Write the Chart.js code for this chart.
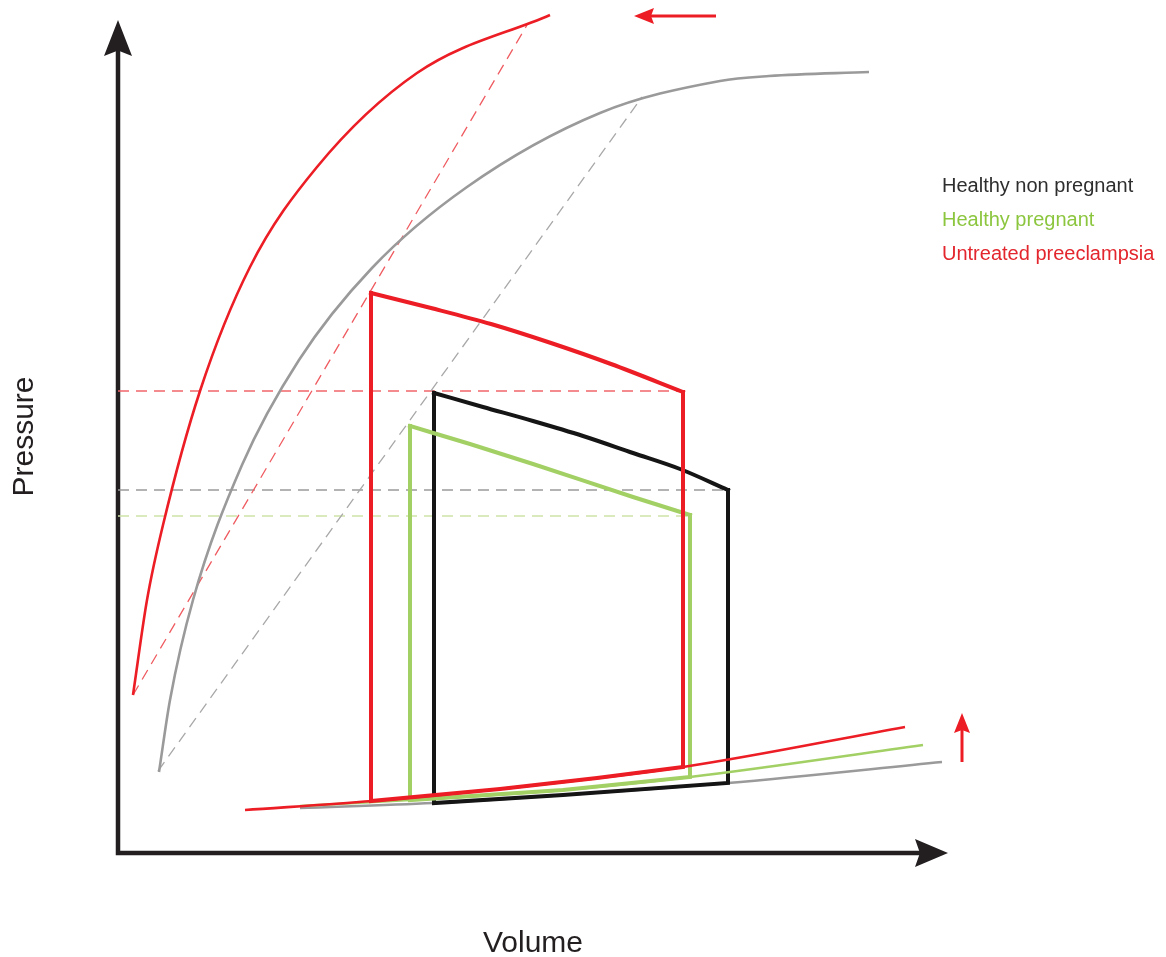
<!DOCTYPE html>
<html>
<head>
<meta charset="utf-8">
<title>Pressure-volume loops</title>
<script src="https://cdn.jsdelivr.net/npm/chart.js@4.4.1/dist/chart.umd.min.js"></script>
<style>
    html, body { margin: 0; padding: 0; background: #fff; }
    #wrap { width: 1166px; height: 957px; }
    canvas { display: block; }
</style>
</head>
<body>
<div id="wrap"><canvas id="pvChart" width="1166" height="957"></canvas></div>
<script>
document.addEventListener('DOMContentLoaded', function() {

    const RED = '#ec1d25';
    const GREEN = '#a3d065';
    const BLACK = '#151515';
    const GREY = '#9a9a9a';
    const AXIS = '#231f20';

    // volume / pressure in arbitrary units
    // end-systolic pressure-volume relations (curved)
    const espvrHealthy = [[41,81],[52,153],[75,253],[124,388],[181,493],[254,585],[349,666],[482,740],[602,772],[651,777],[751,781]];
    const espvrPreeclampsia = [[15,158],[29,253],[45,328],[82,462],[132,586],[199,686],[299,780],[432,838]];

    // straight elastance lines (dashed)
    const eesHealthy = [[40,82],[524,756]];
    const eesPreeclampsia = [[15,158],[409,828]];

    // end-diastolic pressure-volume relations
    const edpvrHealthy = [[182,45],[315,50],[445,58],[610,70],[824,91]];
    const edpvrPregnant = [[182,47],[292,53],[445,63],[572,76],[805,108]];
    const edpvrPreeclampsia = [[127,43],[254,52],[382,64],[565,86],[787,126]];

    // PV loops: walls + filling limb, and the ejection limb on top
    const loopNonPregnant = [[316,460],[316,50],[445,58],[610,70],[610,363]];
    const ejectNonPregnant = [[316,460],[365,446],[415,432],[465,417],[515,400],[562,384],[610,363]];
    const loopPregnant = [[292,427],[292,53],[445,63],[572,76],[572,338]];
    const ejectPregnant = [[292,427],[352,409],[415,389],[515,356],[572,338]];
    const loopPreeclampsia = [[253,560],[253,52],[382,64],[479,75],[565,86],[565,461]];
    const ejectPreeclampsia = [[253,560],[313,545],[373,529],[433,510],[493,489],[565,461]];

    // end-systolic pressure levels (dashed) and their volumes
    const espPressure = [363, 337, 462];   // non pregnant, pregnant, preeclampsia
    const espVolume = [610, 572, 565];

    // shift arrows
    const espvrShiftArrow = [[598,837],[516,837]];
    const edpvrShiftArrow = [[844,91],[844,140]];

    const axisTips = [830, 833];   // volume tip, pressure tip
    const groupLabels = ['Healthy non pregnant', 'Healthy pregnant', 'Untreated preeclampsia'];
    const groupColors = ['#2e2e2e', '#8cc63f', '#e3262d'];
    const lineColors = [GREY, '#cfe3a6', '#f0666b'];

    const pts = arr => arr.map(p => ({ x: p[0], y: p[1] }));

    function series(data, color, width, extra) {
        return Object.assign({
            data: pts(data),
            showLine: true,
            borderColor: color,
            backgroundColor: color,
            borderWidth: width,
            pointRadius: 0,
            pointHoverRadius: 0,
            fill: false,
            tension: 0,
            clip: false,
            borderJoinStyle: 'miter',
            borderCapStyle: 'butt'
        }, extra || {});
    }

    // curves are all increasing in volume, so monotone cubic keeps them smooth
    const smooth = { tension: 0.4, cubicInterpolationMode: 'monotone' };
    const dashed = { borderDash: [11, 7], order: 10 };

    const datasets = [
        series(espvrHealthy, GREY, 2.6, Object.assign({ order: 9 }, smooth)),
        series(espvrPreeclampsia, RED, 2.6, Object.assign({ order: 8 }, smooth)),
        series(eesHealthy, '#a8a8a8', 1.3, dashed),
        series(eesPreeclampsia, '#ef5b60', 1.3, dashed)
    ];
    espPressure.forEach((p, i) => {
        datasets.push(series([[0, p], [espVolume[i], p]], lineColors[i], 1.3, dashed));
    });
    datasets.push(
        series(edpvrHealthy, GREY, 2.6, Object.assign({ order: 7 }, smooth)),
        series(loopNonPregnant, BLACK, 4, { order: 6, borderCapStyle: 'square' }),
        series(ejectNonPregnant, BLACK, 4, Object.assign({ order: 6, borderCapStyle: 'square' }, smooth)),
        series(edpvrPregnant, GREEN, 2.6, Object.assign({ order: 5 }, smooth)),
        series(loopPregnant, GREEN, 4, { order: 4, borderCapStyle: 'square' }),
        series(ejectPregnant, GREEN, 4, Object.assign({ order: 4, borderCapStyle: 'square' }, smooth)),
        series(loopPreeclampsia, RED, 4, { order: 3, borderCapStyle: 'square' }),
        series(ejectPreeclampsia, RED, 4, Object.assign({ order: 3, borderCapStyle: 'square' }, smooth)),
        series(edpvrPreeclampsia, RED, 2.6, Object.assign({ order: 2 }, smooth))
    );

    function arrowHead(ctx, tx, ty, dx, dy, len, half) {
        const bx = tx - dx * len, by = ty - dy * len;
        const nx = -dy, ny = dx;
        const notch = len * 0.15;
        ctx.beginPath();
        ctx.moveTo(tx, ty);
        ctx.lineTo(bx + nx * half, by + ny * half);
        ctx.lineTo(bx + dx * notch, by + dy * notch);
        ctx.lineTo(bx - nx * half, by - ny * half);
        ctx.closePath();
        ctx.fill();
    }

    function drawArrow(chart, arrow, color, width, len, half) {
        const { ctx, scales: { x, y } } = chart;
        const x1 = x.getPixelForValue(arrow[0][0]), y1 = y.getPixelForValue(arrow[0][1]);
        const x2 = x.getPixelForValue(arrow[1][0]), y2 = y.getPixelForValue(arrow[1][1]);
        const d = Math.hypot(x2 - x1, y2 - y1);
        const dx = (x2 - x1) / d, dy = (y2 - y1) / d;
        ctx.save();
        ctx.strokeStyle = color;
        ctx.fillStyle = color;
        ctx.lineWidth = width;
        ctx.beginPath();
        ctx.moveTo(x1, y1);
        ctx.lineTo(x2 - dx * len * 0.8, y2 - dy * len * 0.8);
        ctx.stroke();
        arrowHead(ctx, x2, y2, dx, dy, len, half);
        ctx.restore();
    }

    const decorations = {
        id: 'decorations',
        beforeDatasetsDraw(chart) {
            const { ctx, scales: { x, y } } = chart;
            const x0 = x.getPixelForValue(0), y0 = y.getPixelForValue(0);
            const xt = x.getPixelForValue(axisTips[0]), yt = y.getPixelForValue(axisTips[1]);
            ctx.save();
            ctx.strokeStyle = AXIS;
            ctx.fillStyle = AXIS;
            ctx.lineWidth = 4.5;
            ctx.lineJoin = 'miter';
            ctx.beginPath();
            ctx.moveTo(x0, yt + 30);
            ctx.lineTo(x0, y0);
            ctx.lineTo(xt - 28, y0);
            ctx.stroke();
            arrowHead(ctx, x0, yt, 0, -1, 36, 14);
            arrowHead(ctx, xt, y0, 1, 0, 33, 14);

            // axis titles
            ctx.font = '30px "Liberation Sans", Arial, sans-serif';
            ctx.textAlign = 'center';
            ctx.textBaseline = 'alphabetic';
            ctx.fillText('Volume', (x0 + xt) / 2, 952);
            ctx.translate(33, (y0 + yt) / 2);
            ctx.rotate(-Math.PI / 2);
            ctx.fillText('Pressure', 0, 0);
            ctx.restore();
        },
        afterDatasetsDraw(chart) {
            const { ctx } = chart;
            drawArrow(chart, espvrShiftArrow, RED, 3, 20, 8);
            drawArrow(chart, edpvrShiftArrow, RED, 3, 20, 8);

            ctx.save();
            ctx.font = '20px "Liberation Sans", Arial, sans-serif';
            ctx.textAlign = 'left';
            ctx.textBaseline = 'alphabetic';
            groupLabels.forEach((label, i) => {
                ctx.fillStyle = groupColors[i];
                ctx.fillText(label, 942, 192 + i * 34);
            });
            ctx.restore();
        }
    };

    new Chart(document.getElementById('pvChart'), {
        type: 'scatter',
        data: { datasets },
        options: {
            responsive: false,
            animation: false,
            devicePixelRatio: 1,
            layout: { padding: { left: 118, top: 10, right: 166, bottom: 104 } },
            plugins: {
                legend: { display: false },
                tooltip: { enabled: false }
            },
            events: [],
            scales: {
                x: { type: 'linear', min: 0, max: 882, display: false },
                y: { type: 'linear', min: 0, max: 843, display: false }
            }
        },
        plugins: [decorations]
    });

});
</script>
</body>
</html>
